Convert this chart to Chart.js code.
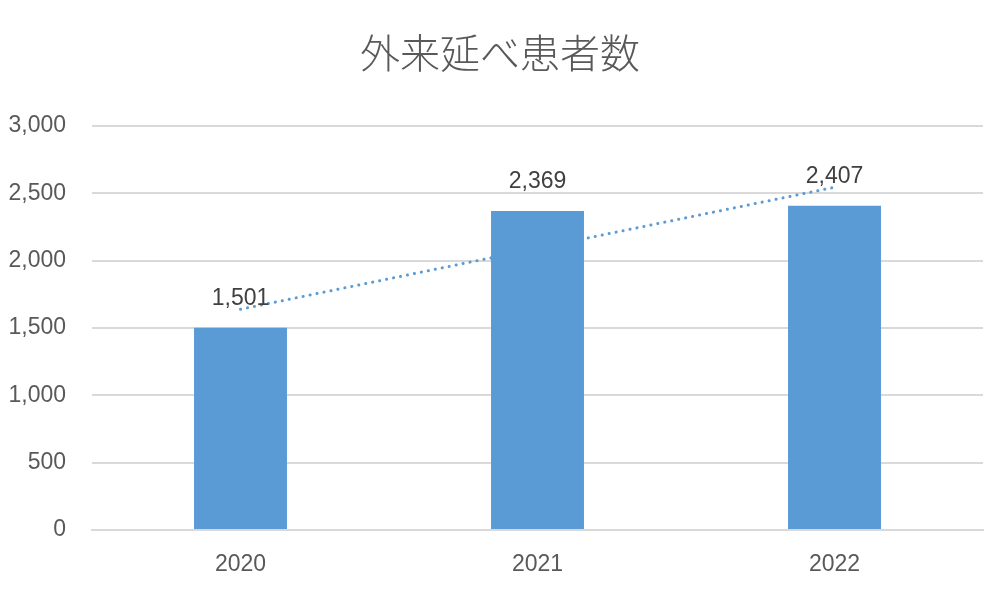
<!DOCTYPE html>
<html>
<head>
<meta charset="utf-8">
<script src="https://cdn.jsdelivr.net/npm/chart.js@4"></script>
<style>
  html, body { margin: 0; padding: 0; background: #fff; }
</style>
</head>
<body>
<canvas id="bar-chart" width="1000" height="596"></canvas>
<script>
// values
var chartTitle = '外来延べ患者数';
var years = ['2020', '2021', '2022'];
var patients = [1501, 2369, 2407];
// linear trendline, estimated at each year
var trendValues = [1639, 2092, 2545];
var yTicks = [0, 500, 1000, 1500, 2000, 2500, 3000];

// title centred on the whole canvas, and the number above each bar
var barLabels = {
  id: 'barLabels',
  afterDatasetsDraw: function (chart) {
    var ctx = chart.ctx;
    var meta = chart.getDatasetMeta(0);
    ctx.save();
    ctx.textAlign = 'center';
    ctx.textBaseline = 'middle';

    ctx.font = '300 40px "Noto Sans CJK JP", sans-serif';
    ctx.fillStyle = '#595959';
    ctx.fillText(chartTitle, chart.width / 2, 53);

    ctx.font = '23px "Liberation Sans", Arial, sans-serif';
    ctx.fillStyle = '#404040';
    meta.data.forEach(function (bar, i) {
      ctx.fillText(patients[i].toLocaleString('en-US'), bar.x, bar.y - 29);
    });
    ctx.restore();
  }
};

new Chart(document.getElementById('bar-chart'), {
  type: 'bar',
  data: {
    labels: years,
    datasets: [
      {
        label: chartTitle,
        data: patients,
        backgroundColor: '#5b9bd5',
        barPercentage: 0.313,
        categoryPercentage: 1,
        order: 2
      },
      {
        type: 'line',
        label: 'trend',
        data: trendValues,
        borderColor: '#5b9bd5',
        borderWidth: 3,
        borderDash: [0.1, 7],
        borderCapStyle: 'round',
        pointRadius: 0,
        fill: false,
        order: 1
      }
    ]
  },
  options: {
    responsive: false,
    animation: false,
    devicePixelRatio: 1,
    layout: { padding: { left: 0, right: 17, top: 126, bottom: 0 } },
    plugins: {
      legend: { display: false },
      tooltip: { enabled: false },
      title: { display: false }
    },
    scales: {
      x: {
        grid: { display: false, drawTicks: false },
        border: { color: '#d9d9d9', width: 2 },
        ticks: {
          color: '#595959',
          padding: 21,
          font: { family: '"Liberation Sans", Arial, sans-serif', size: 23 }
        },
        afterFit: function (scale) { scale.height = 66; }
      },
      y: {
        min: 0,
        max: 3000,
        afterBuildTicks: function (scale) {
          scale.ticks = yTicks.map(function (v) { return { value: v }; });
        },
        grid: { color: '#d9d9d9', lineWidth: 2, drawTicks: false },
        border: { display: false },
        ticks: {
          color: '#595959',
          padding: 26,
          font: { family: '"Liberation Sans", Arial, sans-serif', size: 23 },
          callback: function (v) { return v.toLocaleString('en-US'); }
        },
        afterFit: function (scale) { scale.width = 92; }
      }
    }
  },
  plugins: [barLabels]
});
</script>
</body>
</html>
